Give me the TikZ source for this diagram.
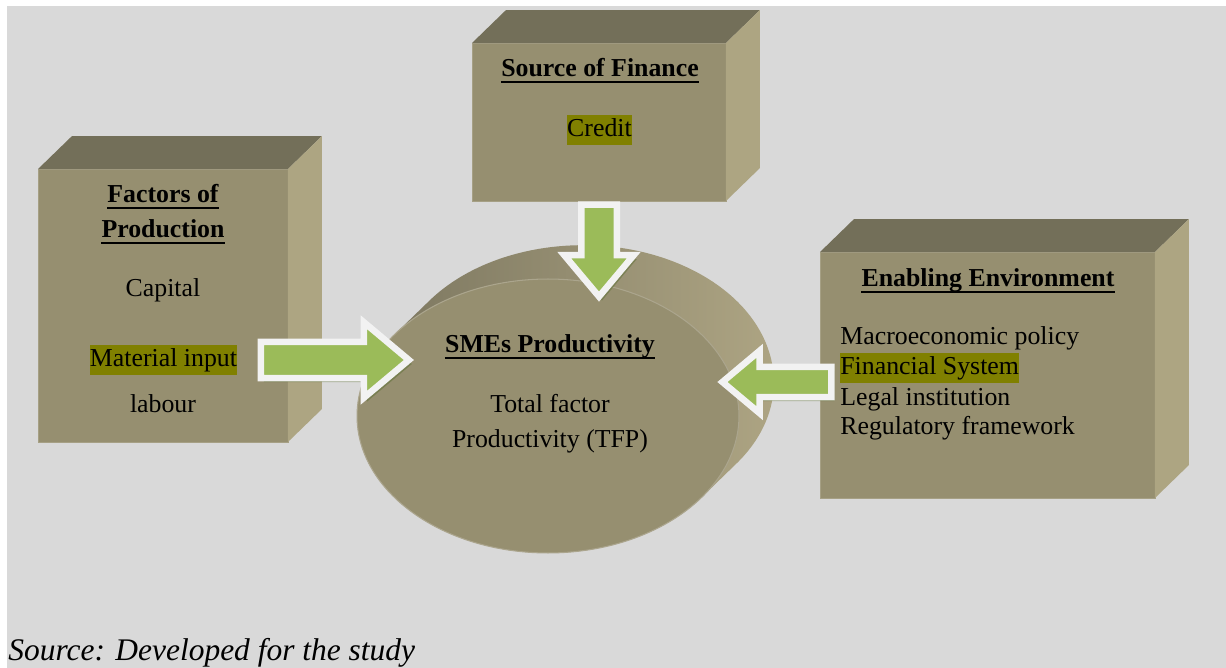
\documentclass[tikz,border=0pt]{standalone}
\usepackage{fontspec}
\setmainfont{Liberation Serif}
\usetikzlibrary{calc,positioning,shapes.geometric,shapes.arrows,shadows}
\definecolor{canvas}{HTML}{D9D9D9}
\definecolor{facefront}{HTML}{968F70}
\definecolor{facetop}{HTML}{736F59}
\definecolor{faceside}{HTML}{ADA582}
\definecolor{rimdark}{HTML}{77725C}
\definecolor{rimlight}{HTML}{B0A785}
\definecolor{hilite}{HTML}{808000}
\definecolor{arrowgreen}{HTML}{9BBB59}
\definecolor{arrowrim}{HTML}{F2F2F2}
\tikzset{
 x=0.02cm, y=-0.02cm, % one unit is one pixel of the layout
 frontface/.style={rectangle, fill=facefront, draw=facefront!85!white, line width=0.5pt, inner sep=0pt, outer sep=0pt},
 lbl/.style={font=\fontsize{14.7}{17}\selectfont, inner sep=0pt, anchor=base},
 head/.style={lbl, font=\fontsize{14.7}{17}\selectfont\bfseries},
 hl/.style={fill=hilite, text height=0.44cm, text depth=0.16cm},
 uline/.style={line width=0.05cm},
 barrow/.style={single arrow, draw=arrowrim, fill=arrowgreen, line width=0.13cm,
   inner xsep=0pt, outer sep=0pt, single arrow tip angle=80,
   drop shadow={shadow xshift=0.06cm, shadow yshift=-0.08cm, fill=black!40!arrowgreen, opacity=.5}},
}
\begin{document}
\begin{tikzpicture}
  \useasboundingbox (0,0) rectangle (1226,668);
  \fill[white] (0,0) rectangle (1226,668);
  \fill[canvas] (7,6) rectangle (1226,668);

  % the three boxes
  \node[frontface, minimum width=5cm, minimum height=5.46cm] (fac) at (163,305.5) {};
  \node[frontface, minimum width=5.08cm, minimum height=3.16cm] (fin) at (599,122) {};
  \node[frontface, minimum width=6.7cm, minimum height=4.92cm] (env) at (987.5,375) {};
  \foreach \b in {fac,fin,env} {
    \fill[facetop] (\b.north west) -- (\b.north east) -- ++(34,-33) -- ($(\b.north west)+(34,-33)$) -- cycle;
    \fill[faceside] (\b.north east) -- (\b.south east) -- ++(34,-33) -- ($(\b.north east)+(34,-33)$) -- cycle;
  }

  % the disc
  \node[ellipse, minimum width=7.64cm, minimum height=5.48cm, inner sep=0pt, outer sep=0pt] (sme) at (548,416) {};
  \node[ellipse, minimum width=7.64cm, minimum height=5.48cm, inner sep=0pt, outer sep=0pt] (smeback) at (581,384) {};
  \shade[left color=rimdark, right color=rimlight]
    (smeback.152.8) arc[start angle=144.4, end angle=-35.6, x radius=3.82cm, y radius=2.74cm]
    -- (sme.-27.2) arc[start angle=-35.6, end angle=-215.6, x radius=3.82cm, y radius=2.74cm] -- cycle;
  \filldraw[fill=facefront, draw=facefront!80!white, line width=0.6pt] (sme.center) ellipse [x radius=3.82cm, y radius=2.74cm];

  % texts
  \node[head] (fach1) at (163,203) {Factors of};
  \node[head] (fach2) at (163,238) {Production};
  \node[lbl] (capital) at (163,297) {Capital};
  \node[lbl, hl] (material) at (163.5,367) {Material input};
  \node[lbl] (labour) at (163,413) {labour};

  \node[head] (finh) at (600,77) {Source of Finance};
  \node[lbl, hl] (credit) at (599.5,137) {Credit};

  \node[head] (smeh) at (550,353) {SMEs Productivity};
  \node[lbl] (tfp1) at (550,413) {Total factor};
  \node[lbl] (tfp2) at (550,447) {Productivity (TFP)};

  \node[head] (envh) at (988,287) {Enabling Environment};
  \node[lbl, anchor=base west] (macro) at (840,345) {Macroeconomic policy};
  \node[lbl, anchor=base west, hl] (finsys) at (840,375) {Financial System};
  \node[lbl, anchor=base west] (legal) at (840,405) {Legal institution};
  \node[lbl, anchor=base west] (regul) at (840,434) {Regulatory framework};

  \foreach \h in {fach1,fach2,finh,smeh,envh}
    \draw[uline] ([yshift=-0.1cm]\h.base west) -- ([yshift=-0.1cm]\h.base east);

  % block arrows into the disc
  \node[barrow, inner ysep=0.3cm, minimum height=2.96cm, minimum width=1.38cm, single arrow head extend=0.39cm] (inleft) at (324,360) {};
  \node[barrow, inner xsep=0.29cm, inner ysep=0pt, minimum height=1.84cm, minimum width=1.26cm, single arrow head extend=0.34cm, shape border rotate=270] (intop) at (599,240) {};
  \node[barrow, inner ysep=0.24cm, minimum height=2.18cm, minimum width=1.1cm, single arrow head extend=0.32cm, shape border rotate=180] (inright) at (786,382) {};

  \node[font=\itshape\fontsize{17.9}{20}\selectfont, anchor=base west, inner sep=0pt] (src) at (8,660) {Source: Developed for the study};
\end{tikzpicture}
\end{document}
